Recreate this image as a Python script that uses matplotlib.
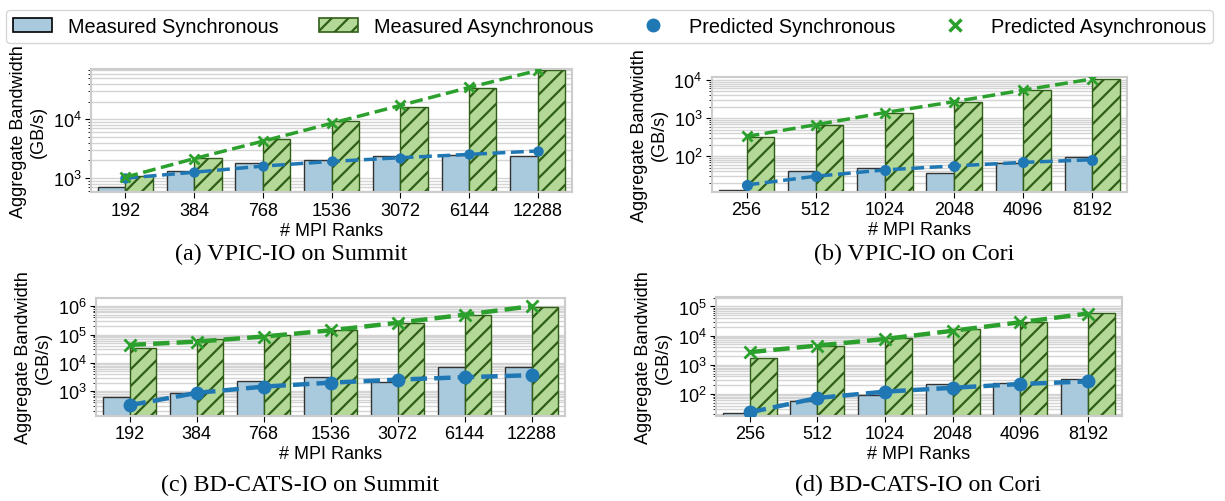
import numpy as np
import matplotlib
matplotlib.use("Agg")
import matplotlib.pyplot as plt
from matplotlib.patches import Patch
from matplotlib.lines import Line2D
from matplotlib.ticker import LogLocator, NullFormatter

plt.rcParams['font.family'] = ['Liberation Sans', 'DejaVu Sans']
plt.rcParams['hatch.linewidth'] = 1.6

# categories
ranks_summit = ["192", "384", "768", "1536", "3072", "6144", "12288"]
ranks_cori = ["256", "512", "1024", "2048", "4096", "8192"]

# (a) VPIC-IO Summit
vpic_summit_sync = [690, 1300, 1770, 2020, 2330, 2490, 2330]
vpic_summit_async = [1070, 2190, 4520, 9500, 15900, 33900, 70000]
vpic_summit_pred_sync = [990, 1250, 1590, 1910, 2210, 2520, 2880]
vpic_summit_pred_async = [1030, 2130, 4230, 8530, 17200, 34800, 68000]

# (b) VPIC-IO Cori
vpic_cori_sync = [13.2, 42, 50, 35.7, 67, 94]
vpic_cori_async = [328, 660, 1360, 2630, 5440, 10600]
vpic_cori_pred_sync = [17.6, 29.8, 43.7, 55.6, 69, 81]
vpic_cori_pred_async = [330, 670, 1400, 2700, 5440, 10700]

# (c) BD-CATS-IO Summit
bdcats_summit_sync = [613, 890, 2310, 3130, 2140, 7400, 7100]
bdcats_summit_async = [33000, 69000, 100000, 150000, 250000, 500000, 920000]
bdcats_summit_pred_sync = [320, 870, 1450, 2000, 2560, 3120, 3670]
bdcats_summit_pred_async = [43000, 56000, 85000, 140000, 260000, 500000, 1000000]

# (d) BD-CATS-IO Cori
bdcats_cori_sync = [21.9, 56, 95, 214, 232, 325]
bdcats_cori_async = [1780, 4360, 8150, 16500, 28800, 60000]
bdcats_cori_pred_sync = [23.4, 73, 120, 163, 219, 270]
bdcats_cori_pred_async = [2720, 4560, 7700, 14700, 28800, 57500]

C_SYNC = "#a9cadd"
C_ASYNC = "#b4d898"
E_ASYNC = "#2f5e17"
C_PSYNC = "#1f77b4"
C_PASYNC = "#2ca02c"


def tracer_panneau(ax, ranks, sync, asyn, psync, pasyn, ylim, ms, lw):
    x = np.arange(len(ranks))
    w = 0.4
    ax.bar(x - w / 2, sync, w, color=C_SYNC, edgecolor="#333333", linewidth=1, zorder=2)
    ax.bar(x + w / 2, asyn, w, color=C_ASYNC, edgecolor=E_ASYNC, linewidth=1,
           hatch="//", zorder=2)
    ax.plot(x, psync, "--o", color=C_PSYNC, lw=lw, ms=ms, zorder=3)
    ax.plot(x, pasyn, "--x", color=C_PASYNC, lw=lw, ms=ms, mew=2, zorder=3)
    ax.set_yscale("log")
    ax.set_ylim(*ylim)
    ax.yaxis.set_major_locator(LogLocator(base=10, numticks=20))
    ax.yaxis.set_minor_locator(LogLocator(base=10, subs=np.arange(2, 10), numticks=20))
    ax.yaxis.set_minor_formatter(NullFormatter())
    ax.set_xlim(-0.5, len(ranks) - 0.5)
    ax.set_xticks(x)
    ax.set_xticklabels(ranks)
    ax.set_xlabel("# MPI Ranks", fontsize=13, labelpad=2)
    ax.set_ylabel("Aggregate Bandwidth\n(GB/s)", fontsize=13)
    ax.yaxis.grid(True, which="both", color="#d4d4d4", lw=1)
    ax.set_axisbelow(True)
    ax.tick_params(axis="both", which="major", labelsize=13, length=4, color="black", pad=3)
    ax.tick_params(axis="y", which="minor", length=2.5, color="black")
    for s in ax.spines.values():
        s.set_color("#cccccc")
        s.set_linewidth(1.5)


fig = plt.figure(figsize=(12.25, 5.02), dpi=100)

ax_a = fig.add_axes([0.0743, 0.6155, 0.3927, 0.2451])
ax_b = fig.add_axes([0.5812, 0.6161, 0.3388, 0.2285])
ax_c = fig.add_axes([0.0784, 0.1700, 0.3829, 0.2338])
ax_d = fig.add_axes([0.5845, 0.1700, 0.3312, 0.2358])

tracer_panneau(ax_a, ranks_summit, vpic_summit_sync, vpic_summit_async,
               vpic_summit_pred_sync, vpic_summit_pred_async, (575, 72000), 6.5, 2.5)
tracer_panneau(ax_b, ranks_cori, vpic_cori_sync, vpic_cori_async,
               vpic_cori_pred_sync, vpic_cori_pred_async, (11.7, 12000), 7, 2.5)
tracer_panneau(ax_c, ranks_summit, bdcats_summit_sync, bdcats_summit_async,
               bdcats_summit_pred_sync, bdcats_summit_pred_async, (137, 1.9e6), 9, 3.2)
tracer_panneau(ax_d, ranks_cori, bdcats_cori_sync, bdcats_cori_async,
               bdcats_cori_pred_sync, bdcats_cori_pred_async, (18, 2.07e5), 9, 3.2)

serif = ['Liberation Serif', 'DejaVu Serif']
fig.text(0.238, 0.494, "(a) VPIC-IO on Summit", ha="center", va="center", fontsize=17.3, family=serif)
fig.text(0.746, 0.494, "(b) VPIC-IO on Cori", ha="center", va="center", fontsize=17.3, family=serif)
fig.text(0.245, 0.032, "(c) BD-CATS-IO on Summit", ha="center", va="center", fontsize=17.3, family=serif)
fig.text(0.749, 0.032, "(d) BD-CATS-IO on Cori", ha="center", va="center", fontsize=17.3, family=serif)

handles = [
    Patch(facecolor=C_SYNC, edgecolor="black", linewidth=1.2, label="Measured Synchronous"),
    Patch(facecolor=C_ASYNC, edgecolor=E_ASYNC, linewidth=1.2, hatch="//", label="Measured Asynchronous"),
    Line2D([], [], ls="none", marker="o", color=C_PSYNC, ms=9, label="Predicted Synchronous"),
    Line2D([], [], ls="none", marker="x", color=C_PASYNC, ms=9, mew=2.5, label="Predicted Asynchronous"),
]
leg = fig.legend(handles=handles, loc="upper center", bbox_to_anchor=(0.4975, 0.997), ncol=4,
                 fontsize=14.3, frameon=True, borderpad=0.35)
leg.get_frame().set_edgecolor("#cccccc")

fig.savefig("out.png", dpi=100)
